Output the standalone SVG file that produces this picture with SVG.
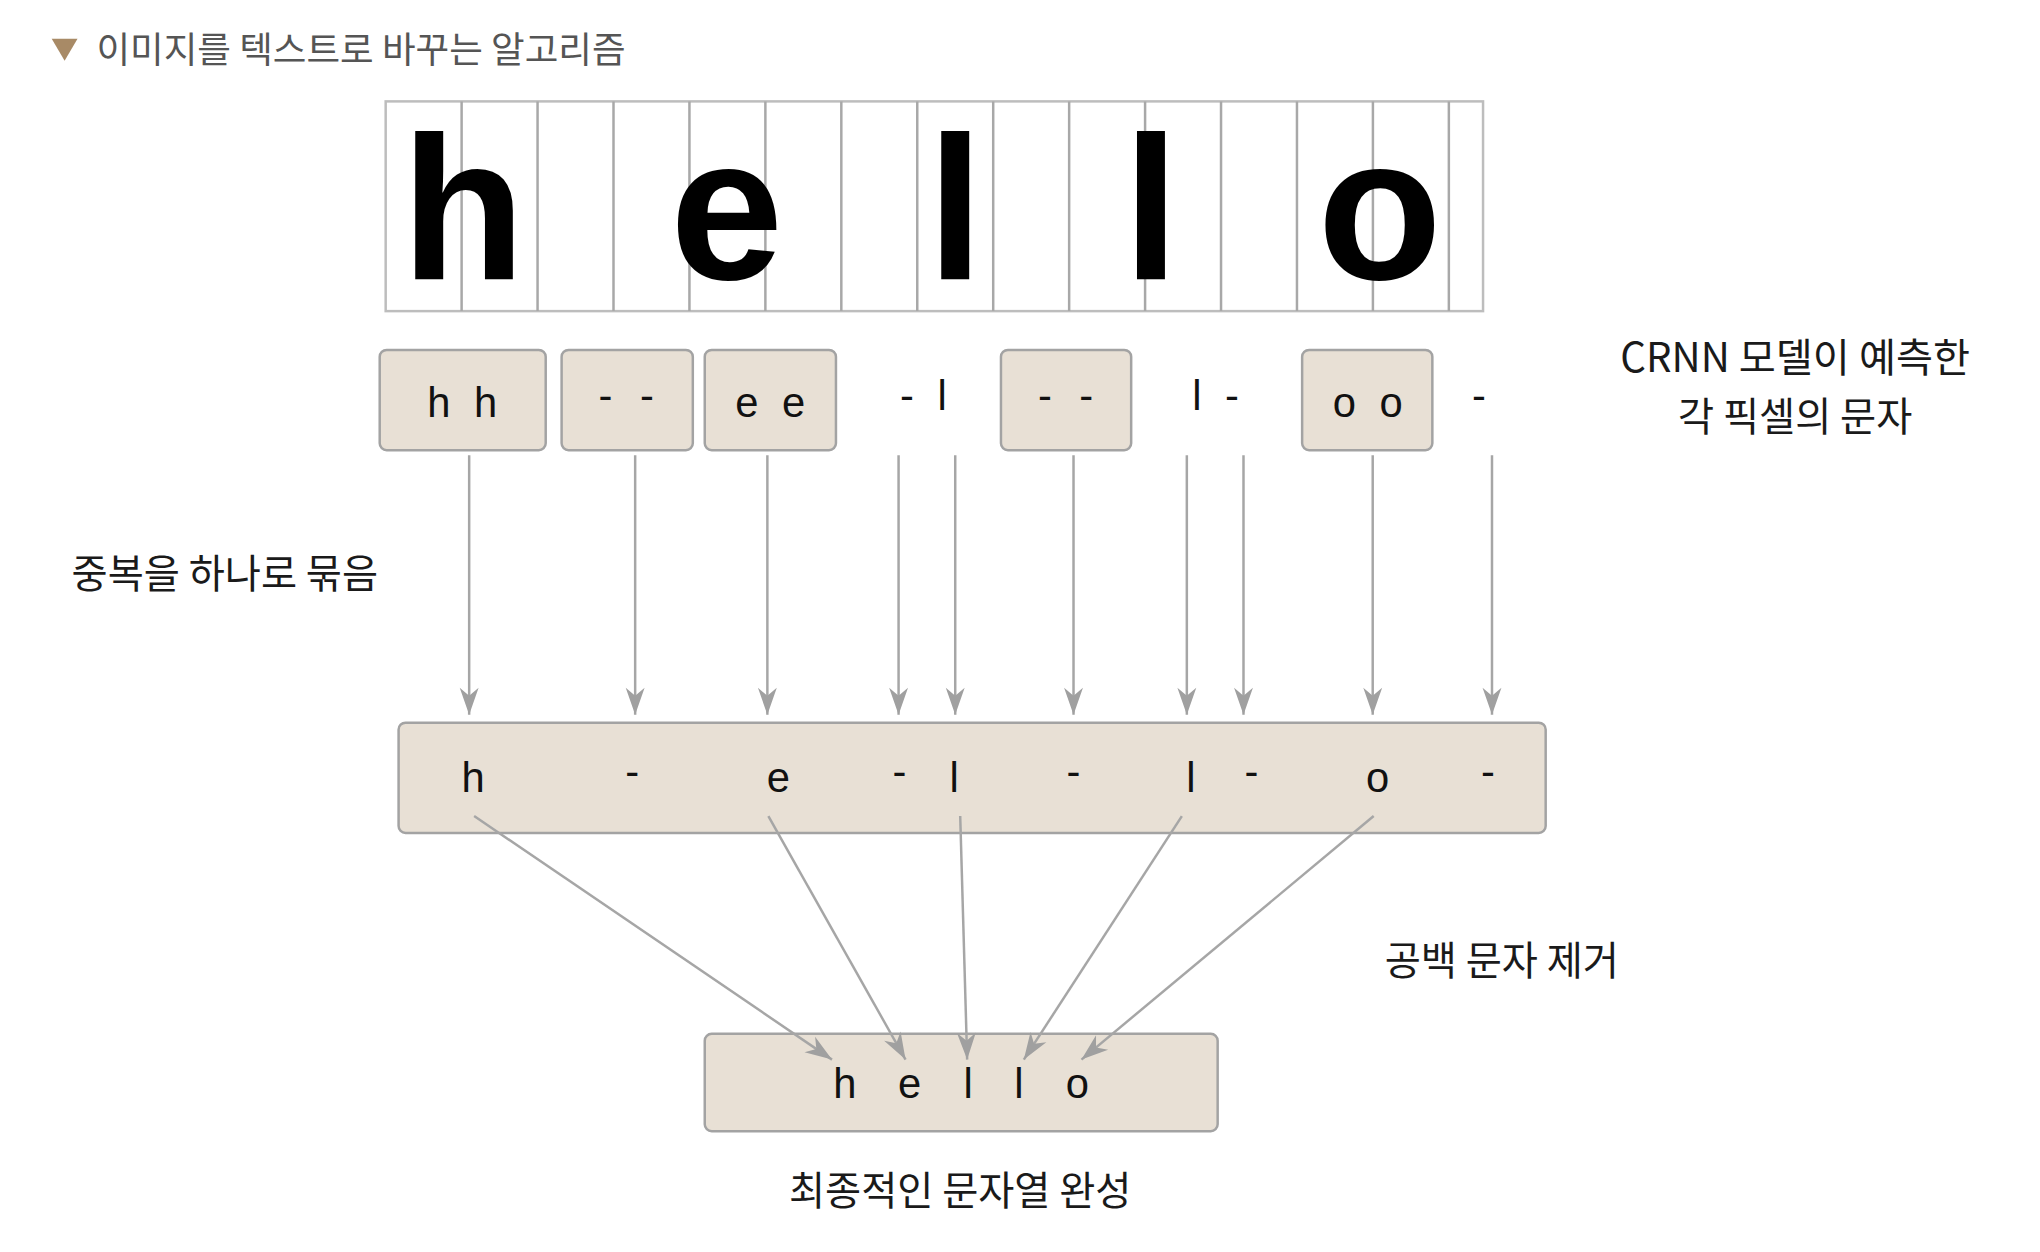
<svg xmlns="http://www.w3.org/2000/svg" width="2040" height="1252" viewBox="0 0 2040 1252">
<style>
.ko{font-family:"Noto Sans CJK KR","Liberation Sans",sans-serif;fill:#1a1a1a}
.lbl{font-size:39.5px}
.title{font-size:36.8px;fill:#555}
.big{font-family:"Liberation Sans",Arial,sans-serif;font-weight:bold;font-size:205px;fill:#000;text-anchor:middle}
.ch{font-family:"Liberation Sans",Arial,sans-serif;font-size:42px;fill:#111;text-anchor:middle}
.box{fill:#e8e0d5;stroke:#a3a3a3;stroke-width:2.5}
.grid{stroke:#a8a8a8;stroke-width:2.5;fill:none}
.conn line{stroke:#a6a6a6;stroke-width:2.5;marker-end:url(#ah)}
</style>
<defs>
<marker id="ah" markerUnits="userSpaceOnUse" viewBox="-28 -10 30 20" refX="0" refY="0" markerWidth="30" markerHeight="20" orient="auto">
<path d="M0 0 L-27 -9.5 L-19 0 L-27 9.5 Z" fill="#a0a0a0"/>
</marker>
</defs>
<rect width="2040" height="1252" fill="#fff"/>
<g transform="scale(0.994)">
<g id="title">
<path d="M52 39 L78 39 L65 61 Z" fill="#a88a66"/>
<text class="ko title" x="97" y="63">이미지를 텍스트로 바꾸는 알고리즘</text>
</g>

<g id="image-grid">
<rect x="388" y="102" width="1104" height="211" fill="#fff" stroke="#bdbdbd" stroke-width="2.5"/>
<path class="grid" d="M464.4 102V313M540.8 102V313M617.2 102V313M693.6 102V313M770 102V313M846.4 102V313M922.8 102V313M999.2 102V313M1075.6 102V313M1152 102V313M1228.4 102V313M1304.8 102V313M1381.2 102V313M1457.6 102V313"/>
<text class="big" x="466" y="281">h</text>
<text class="big" x="731" y="281">e</text>
<text class="big" x="961" y="281">l</text>
<text class="big" x="1158" y="281">l</text>
<text class="big" x="1388" y="281">o</text>
</g>

<g id="pred-hh"><rect class="box" x="382" y="352" width="167" height="101" rx="7"/><text class="ch" x="468" y="420" letter-spacing="6">h h</text></g>
<g id="pred-dash1"><rect class="box" x="565" y="352" width="132" height="101" rx="7"/><text class="ch" x="634" y="412" letter-spacing="8">- -</text></g>
<g id="pred-ee"><rect class="box" x="709" y="352" width="132" height="101" rx="7"/><text class="ch" x="778" y="420" letter-spacing="6">e e</text></g>
<g id="pred-dl"><text class="ch" x="932" y="412" letter-spacing="6">- l</text></g>
<g id="pred-dash2"><rect class="box" x="1007" y="352" width="131" height="101" rx="7"/><text class="ch" x="1076" y="412" letter-spacing="8">- -</text></g>
<g id="pred-ld"><text class="ch" x="1226" y="412" letter-spacing="6">l -</text></g>
<g id="pred-oo"><rect class="box" x="1310" y="352" width="131" height="101" rx="7"/><text class="ch" x="1379" y="420" letter-spacing="6">o o</text></g>
<g id="pred-d"><text class="ch" x="1488" y="412">-</text></g>

<g id="label-crnn">
<text class="ko lbl" x="1806" y="374" text-anchor="middle" style="font-size:40.5px">CRNN 모델이 예측한</text>
<text class="ko lbl" x="1806" y="434" text-anchor="middle">각 픽셀의 문자</text>
</g>
<g id="label-merge"><text class="ko lbl" x="72" y="592">중복을 하나로 묶음</text></g>

<g id="merged">
<rect class="box" x="401" y="727" width="1154" height="111" rx="7"/>
<text class="ch" y="797"><tspan x="476">h</tspan><tspan x="636" dy="-6">-</tspan><tspan x="783" dy="6">e</tspan><tspan x="905" dy="-6">-</tspan><tspan x="960" dy="6">l</tspan><tspan x="1080" dy="-6">-</tspan><tspan x="1198" dy="6">l</tspan><tspan x="1259" dy="-6">-</tspan><tspan x="1386" dy="6">o</tspan><tspan x="1497" dy="-6">-</tspan></text>
</g>

<g id="label-remove"><text class="ko lbl" x="1393" y="981">공백 문자 제거</text></g>

<g id="result">
<rect class="box" x="709" y="1040" width="516" height="98" rx="7"/>
<text class="ch" y="1105"><tspan x="850">h</tspan><tspan x="915">e</tspan><tspan x="974">l</tspan><tspan x="1025">l</tspan><tspan x="1084">o</tspan></text>
</g>

<g id="label-final"><text class="ko lbl" x="966" y="1212" text-anchor="middle">최종적인 문자열 완성</text></g>

<g id="connectors" class="conn">
<line x1="472" y1="458" x2="472" y2="719"/>
<line x1="639" y1="458" x2="639" y2="719"/>
<line x1="772" y1="458" x2="772" y2="719"/>
<line x1="904" y1="458" x2="904" y2="719"/>
<line x1="961" y1="458" x2="961" y2="719"/>
<line x1="1080" y1="458" x2="1080" y2="719"/>
<line x1="1194" y1="458" x2="1194" y2="719"/>
<line x1="1251" y1="458" x2="1251" y2="719"/>
<line x1="1381" y1="458" x2="1381" y2="719"/>
<line x1="1501" y1="458" x2="1501" y2="719"/>
<line x1="477" y1="821" x2="837" y2="1066"/>
<line x1="773" y1="821" x2="911" y2="1066"/>
<line x1="966" y1="821" x2="973" y2="1066"/>
<line x1="1189" y1="821" x2="1030" y2="1066"/>
<line x1="1382" y1="821" x2="1088" y2="1066"/>
</g>
</g>
</svg>
